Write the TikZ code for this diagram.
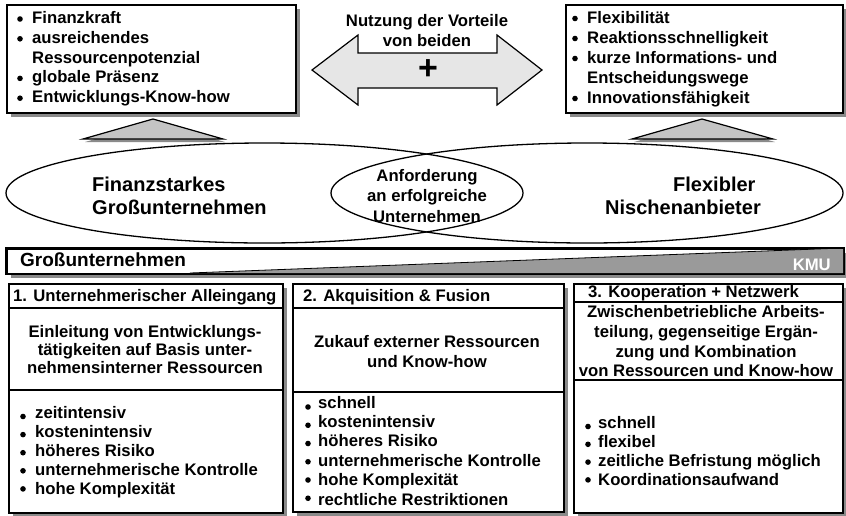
\documentclass[tikz,border=0pt]{standalone}
\usepackage{fontspec}
\setmainfont{Liberation Sans}
\usetikzlibrary{shapes.geometric,shadows}
\definecolor{shadowc}{HTML}{8A8A8A}
\definecolor{arrowfill}{HTML}{E6E6E6}
\definecolor{trifill}{HTML}{C4C4C4}
\definecolor{wedgefill}{HTML}{9A9A9A}

% bullet list: name prefix, bullet x, text x, first baseline, line skip,
% bullet lift of the first item, extra lift per item, items (flag/text)
\newcommand\bulletlist[8]{%
  \foreach \mk/\itemtext [count=\i] in {#8} {
    \pgfmathsetmacro\yy{#4+(\i-1)*#5}
    \pgfmathsetmacro\by{\yy-#6-(\i-1)*#7}
    \node[txt, anchor=base west] (#1t\i) at (#3,\yy) {\itemtext};
    \ifnum\mk=1 \node[dot] (#1b\i) at (#2,\by) {};\fi
  }}
% centred lines: name prefix, centre x, first baseline, line skip, lines
\newcommand\centerlines[5]{%
  \foreach \linetext [count=\i] in {#5} {
    \pgfmathsetmacro\yy{#3+(\i-1)*#4}
    \node[txt, anchor=base] (#1\i) at (#2,\yy) {\linetext};
  }}

\begin{document}
\begin{tikzpicture}[x=1pt,y=-1pt,
  txt/.style={inner sep=0pt, font=\bfseries\fontsize{16.7}{20}\selectfont},
  big/.style={inner sep=0pt, font=\bfseries\fontsize{20}{24}\selectfont},
  dot/.style={circle, fill=black, inner sep=0pt, minimum size=5.6pt},
  panel/.style={draw=black, line width=1.6pt, fill=white, inner sep=0pt, anchor=north west,
    drop shadow={shadow xshift=4pt, shadow yshift=-4pt, fill=shadowc, opacity=1}},
  oval/.style={ellipse, draw=black, line width=1.3pt, inner sep=0pt},
  rule/.style={line width=1.6pt},
]
\useasboundingbox (0,0) rectangle (846,515);
\fill[white] (0,0) rectangle (846,515);

% upper boxes with strengths
\node[panel, minimum width=289pt, minimum height=108pt] (big) at (6,4) {};
\node[panel, minimum width=277pt, minimum height=108pt] (niche) at (565,4) {};
\bulletlist{tl}{20}{32}{23.5}{19.8}{4.5}{0}{1/Finanzkraft,1/ausreichendes,0/Ressourcenpotenzial,1/globale Präsenz,1/Entwicklungs-Know-how}
\bulletlist{tr}{575}{587}{23}{20}{4.5}{0}{1/Flexibilität,1/Reaktionsschnelligkeit,1/kurze Informations- und,0/Entscheidungswege,1/Innovationsfähigkeit}

% double arrow between the boxes
\draw[line width=1.2pt, fill=arrowfill] (312,70) -- (358,35) -- (358,53) -- (497,53) -- (497,35)
  -- (542,70) -- (497,105) -- (497,88) -- (358,88) -- (358,105) -- cycle;
\node[txt, anchor=base] (use1) at (427,26) {Nutzung der Vorteile};
\node[txt, anchor=base] (use2) at (427,46) {von beiden};
\node[inner sep=0pt, font=\bfseries\fontsize{34}{34}\selectfont] (plus) at (428,70) {+};

% small roofs above the ovals
\fill[shadowc] (85,142) -- (155,122) -- (225,142) -- cycle;
\draw[line width=1.2pt, fill=trifill] (83,139) -- (153,119) -- (223,139) -- cycle;
\fill[shadowc] (634,142) -- (704,122) -- (775,142) -- cycle;
\draw[line width=1.2pt, fill=trifill] (632,139) -- (702,119) -- (773,139) -- cycle;

% overlapping ovals
\node[oval, minimum width=517pt, minimum height=100pt] (eL) at (264.5,193) {};
\node[oval, minimum width=512pt, minimum height=100pt] (eR) at (587,193) {};
\node[big, anchor=base west] (fin1) at (92,191) {Finanzstarkes};
\node[big, anchor=base west] (fin2) at (92,214) {Großunternehmen};
\node[big, anchor=base west] (flex1) at (673,191) {Flexibler};
\node[big, anchor=base west] (flex2) at (605,214) {Nischenanbieter};
\centerlines{req}{427}{181}{20.5}{Anforderung,an erfolgreiche,Unternehmen}

% size scale bar
\node[panel, minimum width=837pt, minimum height=25pt] (bar) at (6,248) {};
\fill[wedgefill] (190,273) -- (843,248) -- (843,273) -- cycle;
\draw[line width=0.8pt] (190,273) -- (843,248);
\draw[rule] (bar.north west) rectangle (bar.south east);
\node[inner sep=0pt, font=\bfseries\fontsize{19}{20}\selectfont, anchor=base west] (large) at (20,266) {Großunternehmen};
\node[txt, anchor=base east, text=white] (kmu) at (831,270) {KMU};

% three strategy columns
\node[panel, minimum width=274pt, minimum height=229pt] (c1) at (8,283) {};
\node[panel, minimum width=271pt, minimum height=228pt] (c2) at (292,283) {};
\node[panel, minimum width=269pt, minimum height=229pt] (c3) at (573,283) {};
\draw[rule] (8,308) -- (282,308) (8,390) -- (282,390);
\draw[rule] (292,308) -- (563,308) (292,392) -- (563,392);
\draw[rule] (573,302) -- (842,302) (573,380) -- (842,380);

\node[txt, anchor=base west] (h1) at (13,301) {1. Unternehmerischer Alleingang};
\node[txt, anchor=base west] (h2) at (303,301) {2. Akquisition \& Fusion};
\node[txt, anchor=base west] (h3) at (588,297) {3. Kooperation + Netzwerk};

\centerlines{m1}{145}{337}{18}{Einleitung von Entwicklungs-,tätigkeiten auf Basis unter-,nehmensinterner Ressourcen}
\centerlines{m2}{427}{347}{20}{Zukauf externer Ressourcen,und Know-how}
\centerlines{m3}{706}{317.5}{19.8}{Zwischenbetriebliche Arbeits-,{teilung, gegenseitige Ergän-},zung und Kombination,von Ressourcen und Know-how}

\bulletlist{b1}{23}{35}{418}{19.2}{1.5}{1.1}{1/zeitintensiv,1/kostenintensiv,1/höheres Risiko,1/unternehmerische Kontrolle,1/hohe Komplexität}
\bulletlist{b2}{308}{318}{408}{19.4}{1}{1.15}{1/schnell,1/kostenintensiv,1/höheres Risiko,1/unternehmerische Kontrolle,1/hohe Komplexität,1/rechtliche Restriktionen}
\bulletlist{b3}{588}{598}{428}{19}{1.5}{1.2}{1/schnell,1/flexibel,1/zeitliche Befristung möglich,1/Koordinationsaufwand}
\end{tikzpicture}
\end{document}
